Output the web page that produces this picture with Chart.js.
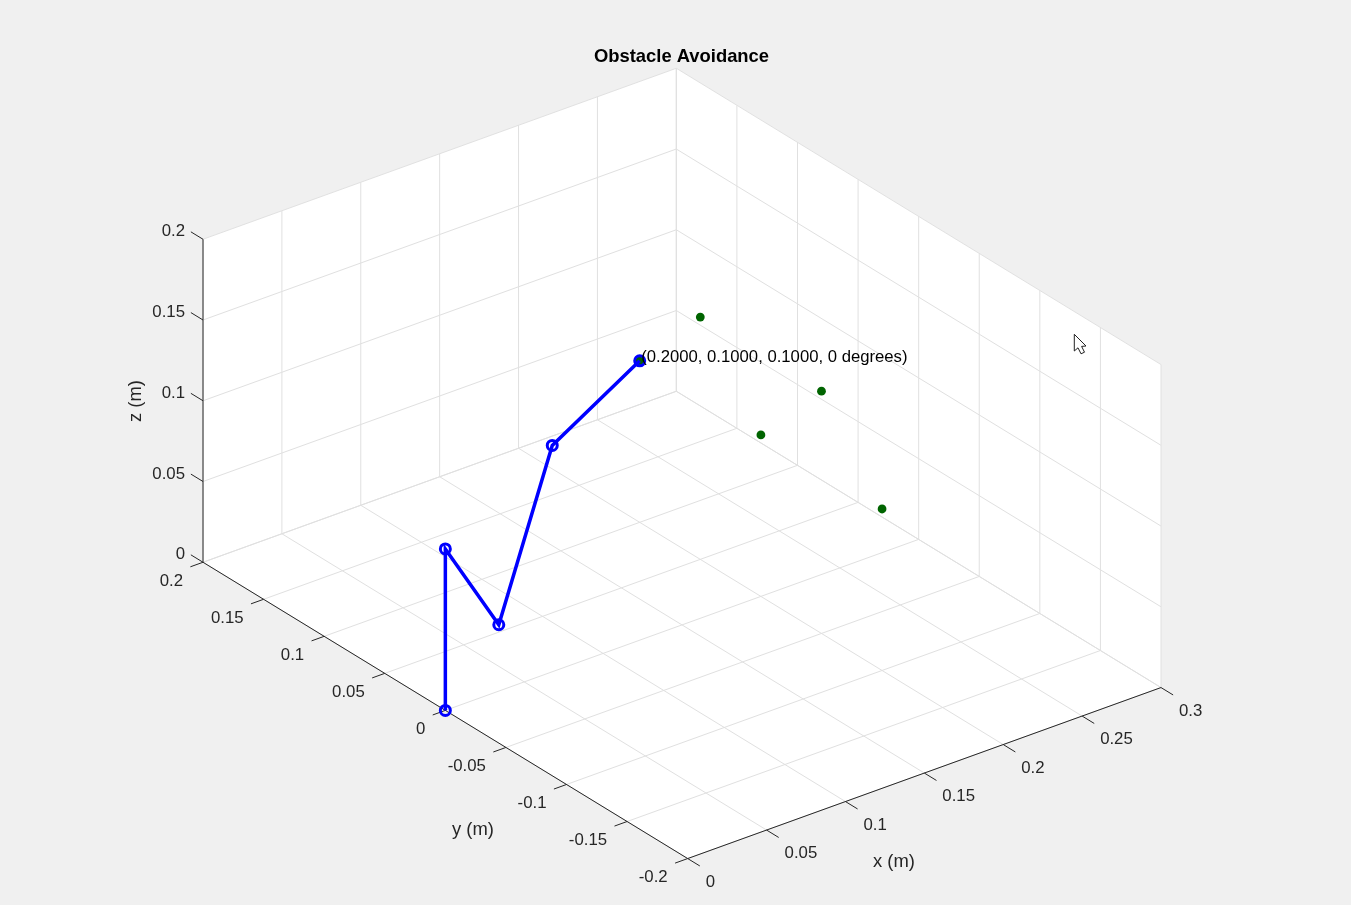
<!DOCTYPE html>
<html>
<head>
<meta charset="utf-8">
<title>Obstacle Avoidance</title>
<script src="https://cdn.jsdelivr.net/npm/chart.js@4/dist/chart.umd.js"></script>
<style>
html,body{margin:0;padding:0;background:#f0f0f0;overflow:hidden}
canvas{display:block}
</style>
</head>
<body>
<canvas id="c" width="1351" height="905" style="width:1351px;height:905px"></canvas>
<script>
// ---- chart values (metres) ----
const chartTitle = "Obstacle Avoidance";
const xTicks = [0, 0.05, 0.1, 0.15, 0.2, 0.25, 0.3];
const yTicks = [-0.2, -0.15, -0.1, -0.05, 0, 0.05, 0.1, 0.15, 0.2];
const zTicks = [0, 0.05, 0.1, 0.15, 0.2];
const xTickLabels = ["0","0.05","0.1","0.15","0.2","0.25","0.3"];
const yTickLabels = ["-0.2","-0.15","-0.1","-0.05","0","0.05","0.1","0.15","0.2"];
const zTickLabels = ["0","0.05","0.1","0.15","0.2"];
const armX = [0, 0, 0.055, 0.11, 0.2];
const armY = [0, 0, 0.0275, 0.055, 0.1];
const armZ = [0, 0.1, 0.021, 0.1, 0.1];
const obstacleX = [0.2, 0.2, 0.2, 0.2, 0.2];
const obstacleY = [0.05, -0.05, 0, -0.1, 0.1];
const obstacleZ = [0.15, 0.15, 0.1, 0.1, 0.1];
const poseLabel = "(0.2000, 0.1000, 0.1000, 0 degrees)";

// ---- orthographic view of the 3-D axes onto the flat scales ----
const view = {ox:445.35, oy:710.4, xx:1577.7, xy:-570, yx:-1211.75, yy:-740.75, zy:-1615};
const project = (x,y,z) => ({x: view.ox + x*view.xx + y*view.yx, y: view.oy + x*view.xy + y*view.yy + z*view.zy});
const seg = (a,b) => [project(...a), project(...b)];
const xMin=xTicks[0], xMax=xTicks[xTicks.length-1];
const yMin=yTicks[0], yMax=yTicks[yTicks.length-1];
const zMin=zTicks[0], zMax=zTicks[zTicks.length-1];

const gridColor = "#e0e0e0", axisColor = "#262626";
const lineDs = (pts,color,width) => ({type:"scatter",data:pts,showLine:true,borderColor:color,borderWidth:width,pointRadius:0,fill:false,clip:false});

const gridSegs = [];
xTicks.forEach(x => { gridSegs.push(seg([x,yMin,zMin],[x,yMax,zMin])); gridSegs.push(seg([x,yMax,zMin],[x,yMax,zMax])); });
yTicks.forEach(y => { gridSegs.push(seg([xMin,y,zMin],[xMax,y,zMin])); gridSegs.push(seg([xMax,y,zMin],[xMax,y,zMax])); });
zTicks.forEach(z => { gridSegs.push(seg([xMin,yMax,z],[xMax,yMax,z])); gridSegs.push(seg([xMax,yMax,z],[xMax,yMin,z])); });

const axisSegs = [
  seg([xMin,yMax,zMin],[xMin,yMax,zMax]),
  seg([xMin,yMax,zMin],[xMin,yMin,zMin]),
  seg([xMin,yMin,zMin],[xMax,yMin,zMin])
];
xTicks.forEach(x => axisSegs.push(seg([x,yMin,zMin],[x,yMin-0.01,zMin])));
yTicks.forEach(y => axisSegs.push(seg([xMin,y,zMin],[xMin-0.008,y,zMin])));
zTicks.forEach(z => axisSegs.push(seg([xMin,yMax,z],[xMin,yMax+0.01,z])));

const walls = [[xMin,yMax,zMin],[xMin,yMin,zMin],[xMax,yMin,zMin],[xMax,yMin,zMax],[xMax,yMax,zMax],[xMin,yMax,zMax],[xMin,yMax,zMin]].map(p=>project(...p));

// Chart.js paints the first dataset last, so the top-most marks come first.
const datasets = [
  {type:"scatter",label:"arm",data:armX.map((x,i)=>project(x,armY[i],armZ[i])),showLine:true,borderColor:"#0000ff",borderWidth:3.5,tension:0,pointStyle:"circle",pointRadius:5,pointBackgroundColor:"rgba(0,0,0,0)",pointBorderColor:"#0000ff",pointBorderWidth:3,clip:false},
  {type:"scatter",label:"obstacle",data:obstacleX.map((x,i)=>project(x,obstacleY[i],obstacleZ[i])),showLine:false,pointStyle:"circle",pointRadius:4.4,pointBackgroundColor:"#006400",pointBorderColor:"#006400",pointBorderWidth:0,clip:false},
  ...axisSegs.map(s=>lineDs(s,axisColor,1)),
  ...gridSegs.map(s=>lineDs(s,gridColor,1)),
  {type:"scatter",data:walls,showLine:true,fill:"shape",backgroundColor:"#ffffff",borderColor:"#ffffff",borderWidth:0,pointRadius:0,clip:false}
];

const fontFamily = "'Liberation Sans', Arial, sans-serif";
const textPlugin = {
  id:"axisText",
  afterDatasetsDraw(chart){
    const ctx = chart.ctx, sx = chart.scales.x, sy = chart.scales.y;
    const at = (x,y,z) => { const p = project(x,y,z); return [sx.getPixelForValue(p.x), sy.getPixelForValue(p.y)]; };
    ctx.save();
    ctx.font = "16.8px " + fontFamily; ctx.fillStyle = "#262626"; ctx.textBaseline = "middle";
    ctx.textAlign = "right";
    zTicks.forEach((z,i)=>{ const [a,b]=at(xMin,yMax,z); ctx.fillText(zTickLabels[i],a-18,b-7.5); });
    yTicks.forEach((y,i)=>{ const [a,b]=at(xMin,y,zMin); ctx.fillText(yTickLabels[i],a-20,b+19); });
    ctx.textAlign = "left";
    xTicks.forEach((x,i)=>{ const [a,b]=at(x,yMin,zMin); ctx.fillText(xTickLabels[i],a+18,b+23.5); });
    ctx.textAlign = "center";
    ctx.font = "18.4px " + fontFamily;
    ctx.fillText("x (m)",894,862);
    ctx.fillText("y (m)",473,830);
    ctx.save(); ctx.translate(135.5,401); ctx.rotate(-Math.PI/2); ctx.fillText("z (m)",0,0); ctx.restore();
    // pose annotation beside the end of the arm
    const n = armX.length-1, [ea,eb] = at(armX[n],armY[n],armZ[n]);
    ctx.font = "16.7px " + fontFamily;
    ctx.textAlign = "left"; ctx.fillStyle = "#000000";
    ctx.fillText(poseLabel, ea+1.5, eb-3.3);
    // pointer caught in the screenshot
    const c = [[1074.3,334.3],[1074.3,351],[1078,347.8],[1081,353.8],[1084.5,352.2],[1081.6,346.4],[1086,346]];
    ctx.beginPath(); c.forEach((p,i)=> i?ctx.lineTo(p[0],p[1]):ctx.moveTo(p[0],p[1])); ctx.closePath();
    ctx.fillStyle="#ffffff"; ctx.fill(); ctx.strokeStyle="#222222"; ctx.lineWidth=1; ctx.stroke();
    ctx.restore();
  }
};

new Chart(document.getElementById("c"),{
  data:{datasets},
  plugins:[textPlugin],
  options:{
    responsive:false,animation:false,devicePixelRatio:1,
    layout:{padding:{left:12,right:0,top:0,bottom:0},autoPadding:false},
    events:[],
    plugins:{
      legend:{display:false},tooltip:{enabled:false},
      title:{display:true,text:chartTitle,color:"#000000",font:{family:fontFamily,size:18.4,weight:"bold",lineHeight:1.2},padding:{top:46,bottom:-68.08}}
    },
    scales:{
      x:{type:"linear",display:false,min:12,max:1351},
      y:{type:"linear",display:false,min:0,max:905,reverse:true}
    }
  }
});
</script>
</body>
</html>
